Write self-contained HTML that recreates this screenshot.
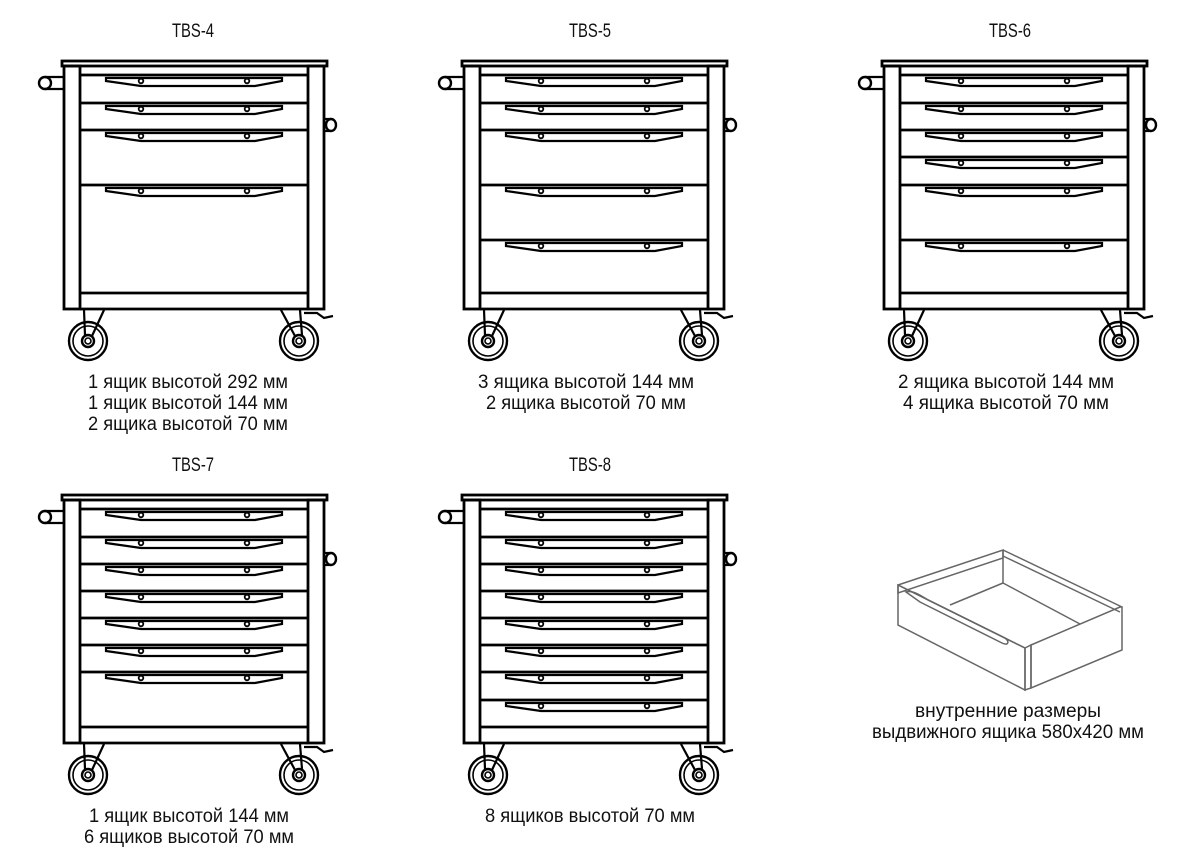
<!DOCTYPE html>
<html><head><meta charset="utf-8"><style>
html,body{margin:0;padding:0;background:#fff;}
svg{display:block;}
text{font-family:"Liberation Sans Narrow","Liberation Sans",sans-serif;font-size:19px;fill:#111;text-anchor:middle;}
</style></head><body>
<svg id="s" width="1200" height="850" viewBox="0 0 1200 850" xmlns="http://www.w3.org/2000/svg">
<g id="g"></g>
<text x="193" y="37" textLength="42" lengthAdjust="spacingAndGlyphs">TBS-4</text>
<text x="590" y="37" textLength="42" lengthAdjust="spacingAndGlyphs">TBS-5</text>
<text x="1010" y="37" textLength="42" lengthAdjust="spacingAndGlyphs">TBS-6</text>
<text x="193" y="471" textLength="42" lengthAdjust="spacingAndGlyphs">TBS-7</text>
<text x="590" y="471" textLength="42" lengthAdjust="spacingAndGlyphs">TBS-8</text>
<text x="188" y="388" textLength="200" lengthAdjust="spacingAndGlyphs">1 ящик высотой 292 мм</text>
<text x="188" y="409" textLength="200" lengthAdjust="spacingAndGlyphs">1 ящик высотой 144 мм</text>
<text x="188" y="430" textLength="200" lengthAdjust="spacingAndGlyphs">2 ящика высотой 70 мм</text>
<text x="586" y="388" textLength="216" lengthAdjust="spacingAndGlyphs">3 ящика высотой 144 мм</text>
<text x="586" y="409" textLength="200" lengthAdjust="spacingAndGlyphs">2 ящика высотой 70 мм</text>
<text x="1006" y="388" textLength="216" lengthAdjust="spacingAndGlyphs">2 ящика высотой 144 мм</text>
<text x="1006" y="409" textLength="206" lengthAdjust="spacingAndGlyphs">4 ящика высотой 70 мм</text>
<text x="189" y="822" textLength="200" lengthAdjust="spacingAndGlyphs">1 ящик высотой 144 мм</text>
<text x="189" y="843" textLength="210" lengthAdjust="spacingAndGlyphs">6 ящиков высотой 70 мм</text>
<text x="590" y="822" textLength="210" lengthAdjust="spacingAndGlyphs">8 ящиков высотой 70 мм</text>
<text x="1008" y="717" textLength="186" lengthAdjust="spacingAndGlyphs">внутренние размеры</text>
<text x="1008" y="738" textLength="272" lengthAdjust="spacingAndGlyphs">выдвижного ящика 580х420 мм</text>
<g stroke="#666" stroke-width="1.5" fill="none">
<polygon points="898,585 1003,550 1003,558 898,593"/>
<line x1="1003" y1="550" x2="1122" y2="607"/>
<line x1="1003" y1="556" x2="1120" y2="612"/>
<line x1="1003" y1="550" x2="1003" y2="583"/>
<line x1="1003" y1="583" x2="950" y2="605"/>
<line x1="1003" y1="583" x2="1080" y2="624"/>
<polygon points="898,585 898,625 1025,690 1025,648"/>
<polygon points="1025,648 1031,645 1031,688 1025,690"/>
<polygon points="1031,645 1120,607 1122,607 1122,650 1031,688"/>
<path d="M906,592 C912,590 920,595 928,600 L1005,638 C1010,642 1008,646 1002,643 L920,602 Z"/>
<line x1="898" y1="585" x2="1025" y2="648"/>
</g>
</svg>
<script>
var g=document.getElementById('g');var h='';
function L(x1,y1,x2,y2,w){h+='<line x1="'+x1+'" y1="'+y1+'" x2="'+x2+'" y2="'+y2+'" stroke="#000" stroke-width="'+(w||2.8)+'"/>';}
function cab(ox,oy,lines){
 var R=function(x,y,w,hh,sw){h+='<rect x="'+(ox+x)+'" y="'+(oy+y)+'" width="'+w+'" height="'+hh+'" fill="none" stroke="#000" stroke-width="'+(sw||2.8)+'"/>';};
 R(62,61,265,5);
 R(64,66,16,243);R(308,66,16,243);
 L(ox+80,oy+309,ox+308,oy+309);
 L(ox+80,oy+293,ox+308,oy+293);
 for(var i=0;i<lines.length;i++){var y=oy+lines[i];L(ox+80,y,ox+308,y);
  h+='<polygon points="'+(ox+106)+','+(y+3)+' '+(ox+282)+','+(y+3)+' '+(ox+282)+','+(y+6)+' '+(ox+255)+','+(y+11)+' '+(ox+141)+','+(y+11)+' '+(ox+106)+','+(y+6)+'" fill="none" stroke="#000" stroke-width="2.2"/>';
  h+='<circle cx="'+(ox+141)+'" cy="'+(y+6)+'" r="2.3" fill="none" stroke="#000" stroke-width="1.8"/><circle cx="'+(ox+247)+'" cy="'+(y+6)+'" r="2.3" fill="none" stroke="#000" stroke-width="1.8"/>';}
 h+='<circle cx="'+(ox+45)+'" cy="'+(oy+83)+'" r="6" fill="#fff" stroke="#000" stroke-width="2.4"/>';L(ox+45,oy+77,ox+64,oy+77,2.2);L(ox+45,oy+89,ox+64,oy+89,2.2);
 h+='<ellipse cx="'+(ox+331)+'" cy="'+(oy+125)+'" rx="5" ry="6" fill="#fff" stroke="#000" stroke-width="2.4"/>';L(ox+324,oy+119,ox+331,oy+119,2.2);L(ox+324,oy+131,ox+331,oy+131,2.2);
 [[88,0],[299,1]].forEach(function(w){var cx=ox+w[0],cy=oy+341;
  h+='<circle cx="'+cx+'" cy="'+cy+'" r="19" fill="none" stroke="#000" stroke-width="2.4"/><circle cx="'+cx+'" cy="'+cy+'" r="15" fill="none" stroke="#000" stroke-width="1.6"/><circle cx="'+cx+'" cy="'+cy+'" r="6" fill="none" stroke="#000" stroke-width="2.4"/><circle cx="'+cx+'" cy="'+cy+'" r="3" fill="none" stroke="#000" stroke-width="1.6"/>';
  if(!w[1]){L(cx-4,oy+310,cx-3,cy-6,2.2);L(cx+16,oy+310,cx+4,cy-5,2.2);}
  else{L(cx-18,oy+310,cx-4,cy-5,2.2);L(cx+1,oy+310,cx+3,cy-6,2.2);
   h+='<path d="M'+(cx+5)+','+(oy+313)+' L'+(cx+18)+','+(oy+313)+' L'+(cx+25)+','+(oy+318)+' L'+(cx+34)+','+(oy+316)+'" fill="none" stroke="#000" stroke-width="2.2"/>';}
 });
}
cab(0,0,[75,103,130,185]);
cab(400,0,[75,103,130,185,240]);
cab(820,0,[75,103,130,157,185,240]);
cab(0,434,[75,103,130,157,184,211,238]);
cab(400,434,[75,103,130,157,184,211,238,266]);
g.innerHTML=h;
</script>
</body></html>
